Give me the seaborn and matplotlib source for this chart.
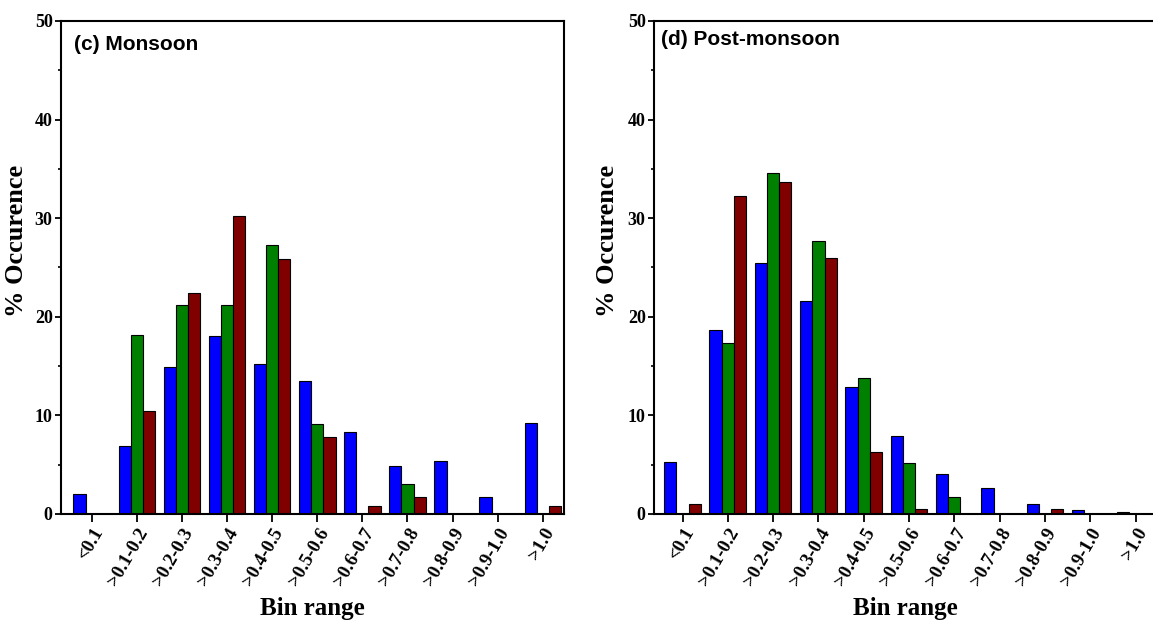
import pandas as pd
import seaborn as sns
import matplotlib.pyplot as plt
from matplotlib.ticker import MultipleLocator

sns.set_style("white")
plt.rcParams['font.family'] = ['Liberation Serif', 'DejaVu Serif']
plt.rcParams['font.weight'] = 'bold'
plt.rcParams.update({'text.color': 'black', 'axes.labelcolor': 'black',
                     'xtick.color': 'black', 'ytick.color': 'black'})

bins = ['<0.1', '>0.1-0.2', '>0.2-0.3', '>0.3-0.4', '>0.4-0.5', '>0.5-0.6',
        '>0.6-0.7', '>0.7-0.8', '>0.8-0.9', '>0.9-1.0', '>1.0']
groups = ['blue', 'green', 'red']
colors = ['#0000ff', '#008000', '#800000']

# (c) Monsoon
monsoon_blue = [2.0, 6.9, 14.9, 18.1, 15.2, 13.5, 8.3, 4.9, 5.4, 1.7, 9.2]
monsoon_green = [0, 18.2, 21.2, 21.2, 27.3, 9.1, 0, 3.0, 0, 0, 0]
monsoon_red = [0, 10.4, 22.4, 30.2, 25.9, 7.8, 0.85, 1.7, 0, 0, 0.85]

# (d) Post-monsoon
post_blue = [5.3, 18.7, 25.5, 21.6, 12.85, 7.95, 4.06, 2.67, 1.0, 0.44, 0.2]
post_green = [0, 17.3, 34.6, 27.7, 13.8, 5.2, 1.7, 0, 0, 0, 0]
post_red = [1.0, 32.3, 33.7, 26.0, 6.3, 0.5, 0, 0, 0.5, 0, 0]


def panel(ax, blue, green, red, title, xlim, title_pos, ylab_x):
    df = pd.DataFrame({
        'bin': bins * 3,
        'pct': blue + green + red,
        'group': [g for g in groups for _ in bins],
    })
    sns.barplot(data=df, x='bin', y='pct', hue='group', hue_order=groups,
                palette=colors, saturation=1, width=0.81, gap=0,
                edgecolor='black', linewidth=0.8, legend=False, ax=ax)
    ax.set_xlim(*xlim)
    ax.set_ylim(0, 50)
    ax.set_yticks(range(0, 51, 10))
    ax.yaxis.set_minor_locator(MultipleLocator(5))
    for s in ax.spines.values():
        s.set_visible(True)
        s.set_linewidth(1.5)
        s.set_color('black')
    ax.tick_params(axis='y', which='major', direction='out', length=4, width=1.3,
                   pad=2, labelsize=13, left=True)
    ax.tick_params(axis='y', which='minor', direction='out', length=2.5, width=1.2,
                   left=True)
    ax.tick_params(axis='x', direction='out', length=6, width=1.3, pad=2,
                   labelsize=13.5, bottom=True)
    for lab in ax.get_xticklabels():
        lab.set_rotation(60)
        lab.set_ha('right')
        lab.set_va('top')
        lab.set_rotation_mode('anchor')
    ax.set_xlabel('Bin range', fontsize=18, fontweight='bold')
    ax.set_ylabel('% Occurence', fontsize=19, fontweight='bold')
    ax.xaxis.set_label_coords(0.5, -0.168)
    ax.yaxis.set_label_coords(ylab_x, 0.553)
    ax.text(title_pos[0], title_pos[1], title, transform=ax.transAxes,
            fontsize=15, fontweight='bold', family=['Liberation Sans', 'DejaVu Sans'],
            ha='left', va='baseline')


fig = plt.figure(figsize=(11.53, 6.23), dpi=100)
ax1 = fig.add_axes([0.0529, 0.175, 0.4363, 0.7913])
ax2 = fig.add_axes([0.5672, 0.175, 0.4369, 0.7913])

panel(ax1, monsoon_blue, monsoon_green, monsoon_red, '(c) Monsoon',
      (-0.68, 10.47), (0.026, 0.941), -0.066)
panel(ax2, post_blue, post_green, post_red, '(d) Post-monsoon',
      (-0.63, 10.49), (0.014, 0.951), -0.07)

fig.savefig('out.png', dpi=100)
